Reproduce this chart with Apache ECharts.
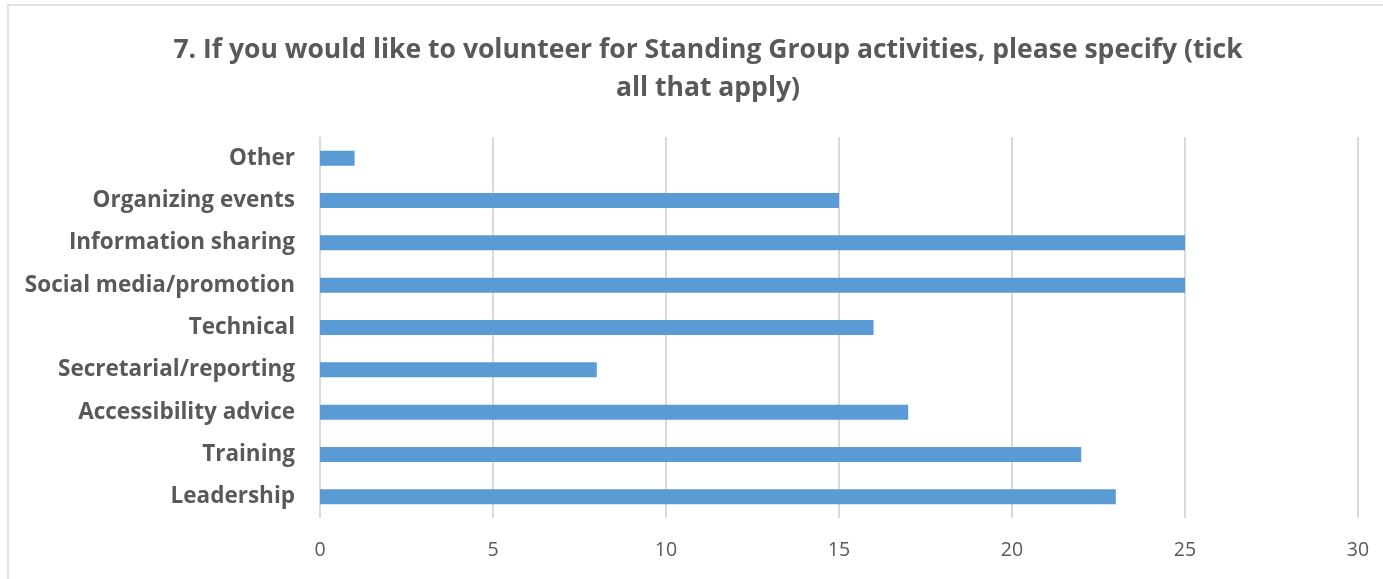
<!DOCTYPE html>
<html>
<head>
<meta charset="utf-8">
<script src="https://cdn.jsdelivr.net/npm/echarts@6/dist/echarts.min.js"></script>
<style>
  html, body { margin: 0; padding: 0; background: #fff; }
  #chart { width: 1383px; height: 579px; }
</style>
</head>
<body>
<div id="chart"></div>
<script>
// categories bottom to top, as echarts draws a category y axis
const categories = [
  'Leadership',
  'Training',
  'Accessibility advice',
  'Secretarial/reporting',
  'Technical',
  'Social media/promotion',
  'Information sharing',
  'Organizing events',
  'Other'
]
const counts = [23, 22, 17, 8, 16, 25, 25, 15, 1]
const titleText = '7. If you would like to volunteer for Standing Group activities, please specify (tick\nall that apply)'

const chart = echarts.init(document.getElementById('chart'))
const textColor = '#595959'
const font = 'Open Sans'

chart.setOption({
  animation: false,
  graphic: [{
    type: 'rect',
    shape: { x: 8, y: 5, width: 1400, height: 620 },
    style: { fill: 'none', stroke: '#d9d9d9', lineWidth: 1.5 },
    silent: true
  }],
  title: {
    text: titleText,
    left: 703,
    textAlign: 'center',
    top: 26,
    textStyle: {
      fontFamily: font,
      fontSize: 26.5,
      fontWeight: 'bold',
      color: textColor,
      lineHeight: 38
    }
  },
  grid: { left: 320, right: 25, top: 137, bottom: 61 },
  xAxis: {
    type: 'value',
    min: 0,
    max: 30,
    interval: 5,
    axisLine: { show: false },
    axisTick: { show: false },
    axisLabel: { color: textColor, fontFamily: font, fontSize: 19.5, margin: 22 },
    splitLine: { lineStyle: { color: '#d9d9d9', width: 2 } }
  },
  yAxis: {
    type: 'category',
    data: categories,
    axisLine: { show: false },
    axisTick: { show: false },
    axisLabel: { color: textColor, fontFamily: font, fontSize: 22.5, fontWeight: 'bold', margin: 25 }
  },
  series: [{
    type: 'bar',
    data: counts,
    barWidth: 15,
    itemStyle: { color: '#5b9bd5' }
  }]
})
</script>
</body>
</html>
